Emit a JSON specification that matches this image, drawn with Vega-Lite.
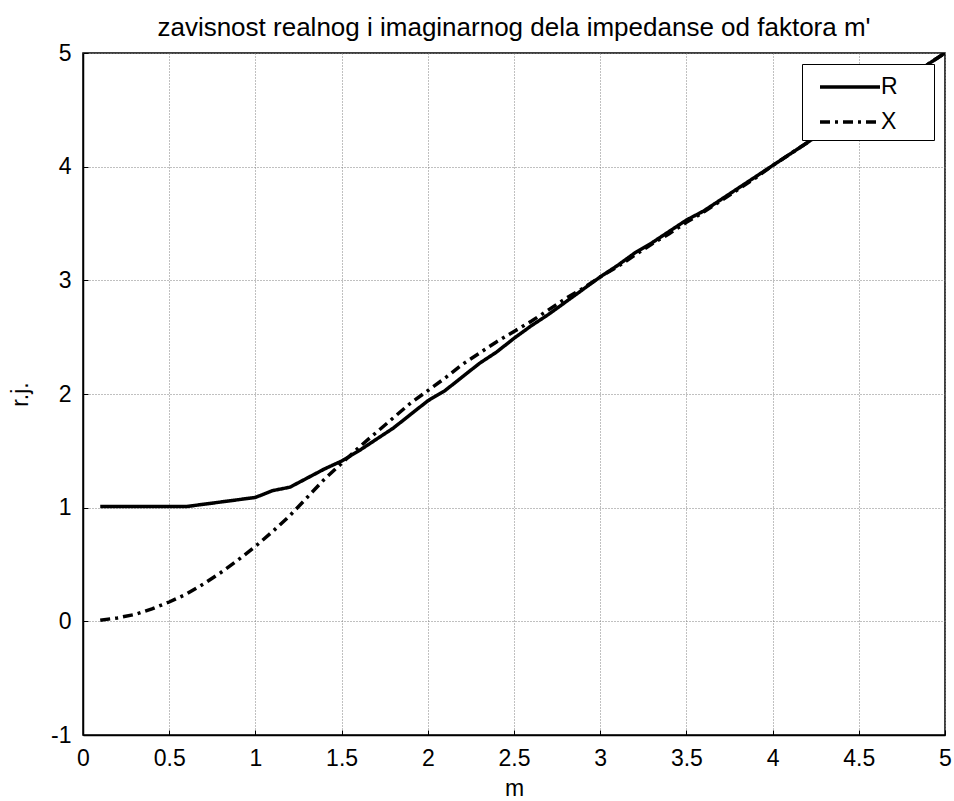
{
  "$schema": "https://vega.github.io/schema/vega-lite/v6.json",
  "width": 862,
  "height": 682,
  "autosize": {"type": "none"},
  "padding": {"left": 83, "top": 53, "right": 9, "bottom": 66},
  "background": "white",
  "config": {
    "font": "Liberation Sans",
    "view": {"stroke": "black", "strokeWidth": 1.5},
    "axis": {
      "domainColor": "black",
      "domainWidth": 1.5,
      "tickColor": "black",
      "labelColor": "black",
      "titleColor": "black",
      "labelFont": "Liberation Sans",
      "titleFont": "Liberation Sans",
      "labelFontSize": 23,
      "titleFontSize": 23,
      "titleFontWeight": "normal",
      "gridColor": "#808080",
      "gridDash": [1, 2],
      "gridOpacity": 1,
      "gridWidth": 1
    }
  },
  "title": {
    "text": "zavisnost realnog i imaginarnog dela impedanse od faktora m'",
    "font": "Liberation Sans",
    "fontSize": 26,
    "fontWeight": "normal",
    "color": "black",
    "offset": 1,
    "anchor": "middle"
  },
  "data": {
    "values": [
      {"m": 0.1, "R": 1.01, "X": 0.01},
      {"m": 0.2, "R": 1.01, "X": 0.03},
      {"m": 0.3, "R": 1.01, "X": 0.06},
      {"m": 0.4, "R": 1.01, "X": 0.11},
      {"m": 0.5, "R": 1.01, "X": 0.17},
      {"m": 0.6, "R": 1.01, "X": 0.24},
      {"m": 0.7, "R": 1.03, "X": 0.33},
      {"m": 0.8, "R": 1.05, "X": 0.43},
      {"m": 0.9, "R": 1.07, "X": 0.54},
      {"m": 1.0, "R": 1.09, "X": 0.66},
      {"m": 1.1, "R": 1.15, "X": 0.79},
      {"m": 1.2, "R": 1.18, "X": 0.93},
      {"m": 1.3, "R": 1.26, "X": 1.09},
      {"m": 1.4, "R": 1.34, "X": 1.25},
      {"m": 1.5, "R": 1.41, "X": 1.39},
      {"m": 1.6, "R": 1.50, "X": 1.53},
      {"m": 1.7, "R": 1.60, "X": 1.66},
      {"m": 1.8, "R": 1.70, "X": 1.79},
      {"m": 1.9, "R": 1.82, "X": 1.92},
      {"m": 2.0, "R": 1.94, "X": 2.03},
      {"m": 2.1, "R": 2.03, "X": 2.14},
      {"m": 2.2, "R": 2.15, "X": 2.26},
      {"m": 2.3, "R": 2.27, "X": 2.36},
      {"m": 2.4, "R": 2.37, "X": 2.46},
      {"m": 2.5, "R": 2.49, "X": 2.55},
      {"m": 2.6, "R": 2.60, "X": 2.64},
      {"m": 2.7, "R": 2.70, "X": 2.74},
      {"m": 2.8, "R": 2.81, "X": 2.84},
      {"m": 2.9, "R": 2.92, "X": 2.93},
      {"m": 3.0, "R": 3.03, "X": 3.03},
      {"m": 3.1, "R": 3.13, "X": 3.12},
      {"m": 3.2, "R": 3.24, "X": 3.22},
      {"m": 3.3, "R": 3.33, "X": 3.32},
      {"m": 3.4, "R": 3.43, "X": 3.41},
      {"m": 3.5, "R": 3.53, "X": 3.51},
      {"m": 3.6, "R": 3.61, "X": 3.60},
      {"m": 3.7, "R": 3.71, "X": 3.70},
      {"m": 3.8, "R": 3.81, "X": 3.80},
      {"m": 3.9, "R": 3.91, "X": 3.90},
      {"m": 4.0, "R": 4.01, "X": 4.01},
      {"m": 4.1, "R": 4.11, "X": 4.11},
      {"m": 4.2, "R": 4.21, "X": 4.21},
      {"m": 4.3, "R": 4.32, "X": 4.31},
      {"m": 4.4, "R": 4.41, "X": 4.41},
      {"m": 4.5, "R": 4.51, "X": 4.50},
      {"m": 4.6, "R": 4.60, "X": 4.60},
      {"m": 4.7, "R": 4.70, "X": 4.70},
      {"m": 4.8, "R": 4.80, "X": 4.80},
      {"m": 4.9, "R": 4.90, "X": 4.90},
      {"m": 5.0, "R": 5.00, "X": 5.00}
    ]
  },
  "transform": [{"fold": ["R", "X"], "as": ["series", "value"]}],
  "mark": {"type": "line", "strokeWidth": 3.5, "color": "black", "clip": true},
  "encoding": {
    "x": {
      "field": "m",
      "type": "quantitative",
      "scale": {"domain": [0, 5], "nice": false, "zero": false},
      "axis": {
        "title": "m",
        "values": [0, 0.5, 1, 1.5, 2, 2.5, 3, 3.5, 4, 4.5, 5],
        "labelExpr": "'' + datum.value",
        "tickSize": -5,
        "labelPadding": 17,
        "titlePadding": 7,
        "labelFlush": false,
        "grid": true
      }
    },
    "y": {
      "field": "value",
      "type": "quantitative",
      "scale": {"domain": [-1, 5], "nice": false, "zero": false},
      "axis": {
        "title": "r.j.",
        "values": [-1, 0, 1, 2, 3, 4, 5],
        "labelExpr": "'' + datum.value",
        "tickSize": -5,
        "labelPadding": 17,
        "titlePadding": 18,
        "labelFlush": false,
        "grid": true
      }
    },
    "strokeDash": {
      "field": "series",
      "type": "nominal",
      "scale": {"domain": ["R", "X"], "range": [[1, 0], [10, 5, 3, 5]]},
      "legend": {
        "title": null,
        "orient": "none",
        "legendX": 719,
        "legendY": 11,
        "strokeColor": "black",
        "fillColor": "white",
        "padding": 6,
        "rowPadding": 6,
        "symbolType": "M-2,0L2,0",
        "symbolSize": 900,
        "symbolStrokeWidth": 3.5,
        "symbolStrokeColor": "black",
        "symbolOffset": 25,
        "labelFontSize": 23,
        "labelColor": "black",
        "labelOffset": 14,
        "labelExpr": "datum.label + '\u00a0\u00a0\u2800'"
      }
    }
  }
}
